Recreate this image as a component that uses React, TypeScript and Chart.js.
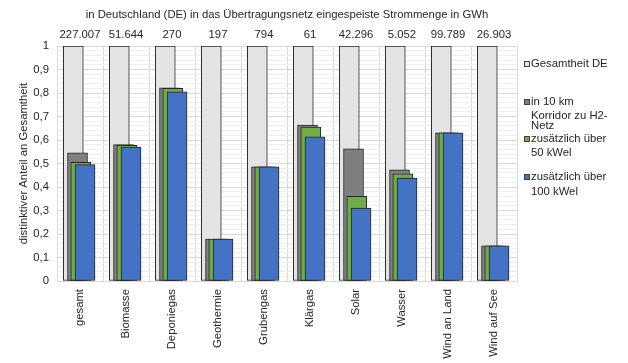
import React, { useEffect, useRef } from 'react';
import { Chart, registerables } from 'chart.js';

Chart.register(...registerables);

const categories = ['gesamt', 'Biomasse', 'Deponiegas', 'Geothermie', 'Grubengas', 'Klärgas', 'Solar', 'Wasser', 'Wind an Land', 'Wind auf See'];
const totalsGWh = ['227.007', '51.644', '270', '197', '794', '61', '42.296', '5.052', '99.789', '26.903'];
const gesamtheitDE = [1, 1, 1, 1, 1, 1, 1, 1, 1, 1];
const korridor10km = [0.545, 0.58, 0.822, 0.178, 0.486, 0.663, 0.562, 0.473, 0.63, 0.15];
const ueber50kWel = [0.505, 0.577, 0.82, 0.178, 0.486, 0.655, 0.36, 0.456, 0.63, 0.15];
const ueber100kWel = [0.495, 0.57, 0.805, 0.178, 0.486, 0.614, 0.31, 0.438, 0.63, 0.15];

const chartTitle = 'in Deutschland (DE) in das Übertragungsnetz eingespeiste Strommenge in GWh';
const yTitle = 'distinktiver Anteil an Gesamtheit';

const FONT = '"Liberation Sans", Arial, sans-serif';
const FS = 11.3;
const TXT = '#262626';

const seriesDefs = [
  { label: 'Gesamtheit DE', data: gesamtheitDE, color: '#e4e4e4', shift: -0.146, order: 4, legend: ['Gesamtheit DE'], ly: [64] },
  { label: 'in 10 km Korridor zu H2-Netz', data: korridor10km, color: '#7f7f7f', shift: -0.054, order: 3, legend: ['in 10 km', 'Korridor zu H2-', 'Netz'], ly: [102, 116, 126] },
  { label: 'zusätzlich über 50 kWel', data: ueber50kWel, color: '#70ad47', shift: 0.017, order: 2, legend: ['zusätzlich über', '50 kWel'], ly: [139, 153] },
  { label: 'zusätzlich über 100 kWel', data: ueber100kWel, color: '#4472c4', shift: 0.109, order: 1, legend: ['zusätzlich über', '100 kWel'], ly: [177, 192] },
];

const overlayPlugin = {
  id: 'overlay',
  afterDraw(chart: any) {
    const { ctx, chartArea } = chart;
    ctx.save();
    ctx.font = `${FS}px ${FONT}`;
    ctx.fillStyle = TXT;
    ctx.textBaseline = 'middle';
    ctx.textAlign = 'center';
    ctx.fillText(chartTitle, (chartArea.left + chartArea.right) / 2, 15);
    ctx.textAlign = 'left';
    seriesDefs.forEach((s) => {
      const y0 = s.ly[0];
      ctx.fillStyle = s.color;
      ctx.fillRect(524.5, y0 - 2.5, 5, 5);
      ctx.strokeStyle = '#404040';
      ctx.lineWidth = 1;
      ctx.strokeRect(524.5, y0 - 2.5, 5, 5);
      ctx.fillStyle = TXT;
      s.legend.forEach((line, k) => ctx.fillText(line, 531, s.ly[k]));
    });
    ctx.restore();
  },
};

export default function App() {
  const ref = useRef<HTMLCanvasElement>(null);
  useEffect(() => {
    const chart = new Chart(ref.current!, {
      type: 'bar',
      data: {
        datasets: seriesDefs.map((s) => ({
          label: s.label,
          data: s.data.map((v, i) => ({ x: i + s.shift, y: v })),
          backgroundColor: s.color,
          borderColor: '#262626',
          borderWidth: 1,
          borderSkipped: false,
          barThickness: 20,
          grouped: false,
          order: s.order,
          xAxisID: 'xb',
          yAxisID: 'y',
        })),
      },
      options: {
        animation: false,
        responsive: false,
        devicePixelRatio: 1,
        layout: { padding: { left: 0, right: 111, top: 20, bottom: 0 } },
        plugins: { legend: { display: false }, title: { display: false }, tooltip: { enabled: false } },
        scales: {
          x: {
            type: 'category',
            labels: categories,
            offset: true,
            position: 'bottom',
            grid: { offset: true, color: '#d9d9d9', drawTicks: false },
            border: { color: '#d9d9d9' },
            ticks: { minRotation: 90, maxRotation: 90, autoSkip: false, padding: 8, color: TXT, font: { family: FONT, size: FS } },
            afterFit: (s: any) => { s.height = 82; },
          },
          xTop: {
            type: 'category',
            labels: totalsGWh,
            offset: true,
            position: 'top',
            grid: { display: false, drawTicks: false },
            border: { display: false },
            ticks: { maxRotation: 0, minRotation: 0, autoSkip: false, padding: 4, color: TXT, font: { family: FONT, size: FS } },
            afterFit: (s: any) => { s.height = 26; },
          },
          xb: { type: 'linear', display: false, min: -0.5, max: 9.5, offset: false },
          y: {
            min: 0,
            max: 1,
            ticks: {
              stepSize: 0.02,
              autoSkip: false,
              padding: 8,
              color: TXT,
              font: { family: FONT, size: FS },
              callback: (v: any) => {
                const r = Math.round(v * 10);
                if (Math.abs(v * 10 - r) > 1e-6) return '';
                if (r === 0) return '0';
                if (r === 10) return '1';
                return '0,' + r;
              },
            },
            grid: {
              drawTicks: false,
              color: (c: any) => {
                const v = c.tick ? c.tick.value : 0;
                const r = Math.round(v * 10);
                return Math.abs(v * 10 - r) < 1e-6 ? '#d9d9d9' : '#f0f0f0';
              },
            },
            border: { display: false },
            title: { display: true, text: yTitle, color: TXT, font: { family: FONT, size: FS }, padding: { top: 17, bottom: 0 } },
            afterFit: (s: any) => { s.width = 57; },
          },
        },
      },
      plugins: [overlayPlugin],
    } as any);
    return () => chart.destroy();
  }, []);
  return (
    <div style={{ position: 'fixed', left: 0, top: 0, width: 628, height: 363, background: '#fff' }}>
      <canvas ref={ref} width={628} height={363} style={{ display: 'block' }} />
    </div>
  );
}
